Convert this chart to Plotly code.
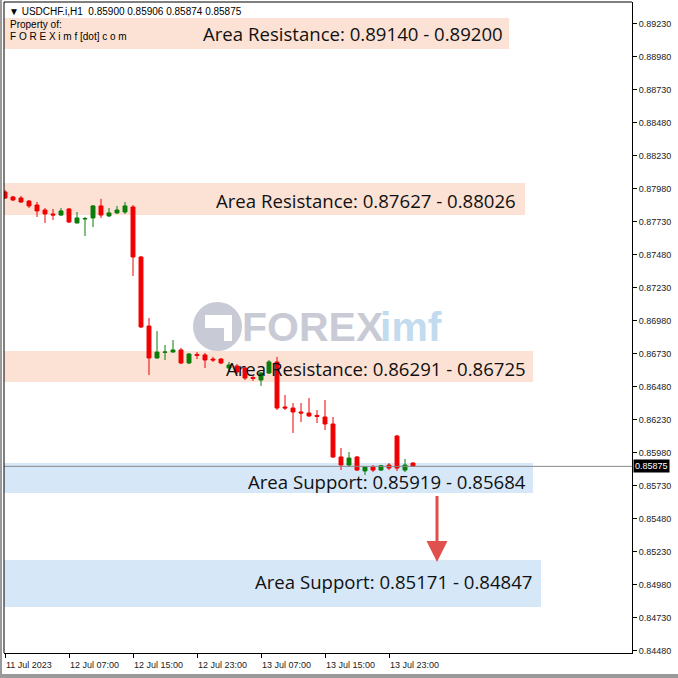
import plotly.graph_objects as go

# ---------------- data ----------------
bar_index = list(range(52))
opens = [0.87954, 0.87916, 0.87908, 0.87885, 0.87855, 0.87817, 0.87787, 0.87779, 0.87825, 0.87719,
         0.87749, 0.87757, 0.87848, 0.87772, 0.87795, 0.87802, 0.87840, 0.87461, 0.86938, 0.86696,
         0.86739, 0.86741, 0.86757, 0.86658, 0.86723, 0.86719, 0.86688, 0.86688, 0.86620, 0.86635,
         0.86620, 0.86548, 0.86529, 0.86582, 0.86666, 0.86325, 0.86317, 0.86287, 0.86279, 0.86261,
         0.86249, 0.86196, 0.85946, 0.85885, 0.85946, 0.85840, 0.85870, 0.85847, 0.85885, 0.86105,
         0.85847, 0.85900]
highs = [0.87969, 0.87924, 0.87924, 0.87893, 0.87878, 0.87832, 0.87825, 0.87832, 0.87832, 0.87802,
         0.87764, 0.87855, 0.87901, 0.87832, 0.87848, 0.87878, 0.87855, 0.87469, 0.86999, 0.86900,
         0.86794, 0.86832, 0.86772, 0.86734, 0.86741, 0.86734, 0.86704, 0.86696, 0.86666, 0.86650,
         0.86635, 0.86559, 0.86590, 0.86681, 0.86704, 0.86416, 0.86355, 0.86355, 0.86393, 0.86302,
         0.86378, 0.86249, 0.86014, 0.85984, 0.85953, 0.85872, 0.85885, 0.85885, 0.85900, 0.86113,
         0.85931, 0.85906]
lows = [0.87901, 0.87885, 0.87870, 0.87832, 0.87764, 0.87719, 0.87742, 0.87772, 0.87719, 0.87715,
        0.87620, 0.87688, 0.87757, 0.87764, 0.87787, 0.87787, 0.87317, 0.86923, 0.86567, 0.86692,
        0.86681, 0.86738, 0.86650, 0.86650, 0.86688, 0.86620, 0.86666, 0.86650, 0.86590, 0.86575,
        0.86529, 0.86522, 0.86484, 0.86575, 0.86302, 0.86302, 0.86128, 0.86211, 0.86249, 0.86203,
        0.86150, 0.85938, 0.85847, 0.85870, 0.85840, 0.85809, 0.85832, 0.85840, 0.85847, 0.85840,
        0.85832, 0.85874]
closes = [0.87908, 0.87893, 0.87878, 0.87848, 0.87810, 0.87787, 0.87779, 0.87810, 0.87726, 0.87757,
          0.87753, 0.87848, 0.87779, 0.87795, 0.87817, 0.87848, 0.87461, 0.86931, 0.86696, 0.86741,
          0.86741, 0.86757, 0.86658, 0.86726, 0.86715, 0.86681, 0.86681, 0.86658, 0.86643, 0.86590,
          0.86544, 0.86541, 0.86582, 0.86666, 0.86317, 0.86317, 0.86287, 0.86279, 0.86257, 0.86253,
          0.86196, 0.85946, 0.85885, 0.85938, 0.85847, 0.85870, 0.85847, 0.85880, 0.85862, 0.85862,
          0.85885, 0.85875]

time_tick_pos = [0, 8, 16, 24, 32, 40, 48]
time_tick_labels = ["11 Jul 2023", "12 Jul 07:00", "12 Jul 15:00", "12 Jul 23:00",
                    "13 Jul 07:00", "13 Jul 15:00", "13 Jul 23:00"]
price_ticks = [0.84480, 0.84730, 0.84980, 0.85230, 0.85480, 0.85730, 0.85980, 0.86230, 0.86480,
               0.86730, 0.86980, 0.87230, 0.87480, 0.87730, 0.87980, 0.88230, 0.88480, 0.88730,
               0.88980, 0.89230]

zone_labels = ["Area Resistance: 0.89140 - 0.89200", "Area Resistance: 0.87627 - 0.88026",
               "Area Resistance: 0.86291 - 0.86725", "Area Support: 0.85919 - 0.85684",
               "Area Support: 0.85171 - 0.84847"]
zone_top = [0.89272, 0.88022, 0.86749, 0.85900, 0.85166]
zone_bottom = [0.89037, 0.87779, 0.86514, 0.85673, 0.84809]
zone_right = [63.0, 65.0, 66.0, 66.0, 67.0]
zone_kind = ["res", "res", "res", "sup", "sup"]

last_price = 0.85875
header_text = "▼ USDCHF.i,H1  0.85900 0.85906 0.85874 0.85875"
arrow_bar = 54
arrow_from = 0.85662
arrow_to = 0.85151

# ---------------- layout helpers (pixel placement) ----------------
W, H = 678, 678
L, R, T, B = 4, 632, 2, 653
X_RANGE = [-0.125, 78.375]
Y_RANGE = [0.84461, 0.89393]


def fx(px):
    return (px - L) / (R - L)


def fy(py):
    return (B - py) / (B - T)


fig = go.Figure()

shapes = []
annotations = []

RES_FILL = "#FBE2D5"
SUP_FILL = "#D6E7F8"

for lab, y0, y1, xr, kind in zip(zone_labels, zone_bottom, zone_top, zone_right, zone_kind):
    shapes.append(dict(type="rect", xref="x", yref="y", x0=X_RANGE[0], x1=xr, y0=y0, y1=y1,
                       fillcolor=RES_FILL if kind == "res" else SUP_FILL, line=dict(width=0),
                       layer="below"))

# watermark logo
shapes.append(dict(type="circle", xref="paper", yref="paper",
                   x0=fx(193), x1=fx(242), y0=fy(351), y1=fy(302),
                   fillcolor="#C8CBD5", line=dict(width=0), layer="below"))
shapes.append(dict(type="path", xref="paper", yref="paper",
                   path=("M {a},{b} L {c},{d} L {e},{f} L {g},{h} L {i},{j} L {k},{l} Z").format(
                       a=fx(205), b=fy(315), c=fx(232), d=fy(315), e=fx(232), f=fy(341),
                       g=fx(224), h=fy(341), i=fx(224), j=fy(328), k=fx(205), l=fy(328)),
                   fillcolor="white", line=dict(width=0), layer="below"))

fig.add_trace(go.Candlestick(
    x=bar_index, open=opens, high=highs, low=lows, close=closes,
    increasing=dict(line=dict(color="#0A7D0A", width=1), fillcolor="#0A7D0A"),
    decreasing=dict(line=dict(color="#F00000", width=1), fillcolor="#F00000"),
    whiskerwidth=0, showlegend=False, hoverinfo="skip",
))

# last price line
shapes.append(dict(type="line", xref="paper", yref="y", x0=0, x1=1, y0=last_price, y1=last_price,
                   line=dict(color="#8A8A8A", width=1)))

# frame lines
shapes.append(dict(type="line", xref="paper", yref="paper", x0=0, x1=0, y0=0, y1=1,
                   line=dict(color="#000000", width=1)))
shapes.append(dict(type="line", xref="paper", yref="paper", x0=0, x1=1, y0=1, y1=1,
                   line=dict(color="#000000", width=1)))
# outer gray window border
shapes.append(dict(type="rect", xref="paper", yref="paper", x0=fx(0), x1=fx(678), y0=fy(678), y1=fy(674),
                   fillcolor="#9A9A9A", line=dict(width=0)))
shapes.append(dict(type="rect", xref="paper", yref="paper", x0=fx(0), x1=fx(2), y0=fy(678), y1=fy(0),
                   fillcolor="#9A9A9A", line=dict(width=0)))

# zone texts
text_right_px = [505, 518, 528, 528, 534]
text_center_py = [34, 200, 368, 481, 581]
for lab, rx, cy in zip(zone_labels, text_right_px, text_center_py):
    annotations.append(dict(xref="paper", yref="paper", x=fx(rx), y=fy(cy), xanchor="right",
                            yanchor="middle", text=lab, showarrow=False,
                            font=dict(family="Open Sans", size=18.6, color="#111111")))

# watermark text
annotations.append(dict(xref="paper", yref="paper", x=fx(240), y=fy(327), xanchor="left",
                        yanchor="middle", showarrow=False,
                        text="<b>FOREX</b>", font=dict(family="Liberation Sans", size=41, color="#C8CBD5")))
annotations.append(dict(xref="paper", yref="paper", x=fx(378), y=fy(327), xanchor="left",
                        yanchor="middle", showarrow=False,
                        text="<b>imf</b>", font=dict(family="Liberation Sans", size=41, color="#C2DBEE")))

# header texts
annotations.append(dict(xref="paper", yref="paper", x=fx(7), y=fy(11), xanchor="left", yanchor="middle",
                        showarrow=False, text=header_text,
                        font=dict(family="Liberation Sans", size=10, color="#000000")))
annotations.append(dict(xref="paper", yref="paper", x=fx(8), y=fy(24), xanchor="left", yanchor="middle",
                        showarrow=False, text="Property of:",
                        font=dict(family="Liberation Sans", size=10, color="#000000")))
annotations.append(dict(xref="paper", yref="paper", x=fx(8), y=fy(37), xanchor="left", yanchor="middle",
                        showarrow=False, text="F O R E X i m f [dot] c o m",
                        font=dict(family="Liberation Sans", size=10, color="#000000")))

# x tick labels (left aligned at tick like MT4)
for pos, lab in zip(time_tick_pos, time_tick_labels):
    annotations.append(dict(xref="x", yref="paper", x=pos, y=fy(665), xanchor="left", xshift=-1,
                            yanchor="middle", showarrow=False, text=lab,
                            font=dict(family="Liberation Sans", size=9, color="#222222")))

# last price label
annotations.append(dict(xref="paper", yref="y", x=1.0, y=last_price, xanchor="left", xshift=1,
                        yanchor="middle", showarrow=False, text="0.85875", bgcolor="#000000",
                        borderpad=1, font=dict(family="Liberation Sans", size=9, color="#FFFFFF")))

# red arrow
annotations.append(dict(xref="x", yref="y", x=arrow_bar, y=arrow_to, axref="x", ayref="y",
                        ax=arrow_bar, ay=arrow_from, showarrow=True, arrowhead=2, arrowsize=1.4,
                        arrowwidth=3, arrowcolor="#E0504D", text=""))

fig.update_layout(
    width=W, height=H,
    margin=dict(l=L, r=W - R, t=T, b=H - B, pad=0),
    paper_bgcolor="white", plot_bgcolor="white",
    shapes=shapes, annotations=annotations,
    showlegend=False,
    xaxis=dict(range=X_RANGE, showgrid=False, zeroline=False, rangeslider=dict(visible=False),
               tickmode="array", tickvals=time_tick_pos, showticklabels=False,
               ticks="outside", ticklen=4, tickcolor="#000000",
               showline=True, linecolor="#000000", linewidth=1, fixedrange=True),
    yaxis=dict(range=Y_RANGE, side="right", showgrid=False, zeroline=False,
               tickmode="array", tickvals=price_ticks, ticktext=["%.5f" % v for v in price_ticks],
               ticks="outside", ticklen=4, tickcolor="#000000",
               tickfont=dict(family="Liberation Sans", size=9, color="#222222"),
               showline=True, linecolor="#000000", linewidth=1, fixedrange=True),
)

fig.write_html("out.html", config={"displayModeBar": False},
               post_script="document.body.style.margin='0';document.body.style.overflow='hidden';")
